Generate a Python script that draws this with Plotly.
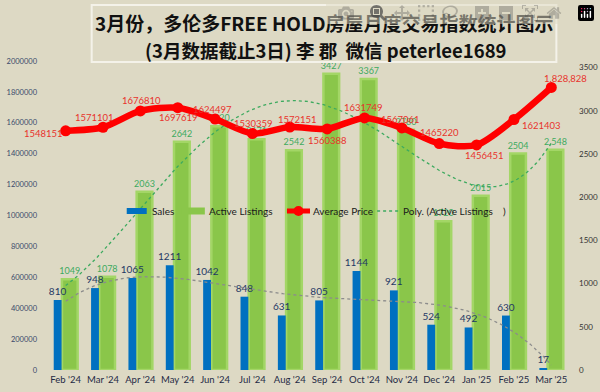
import numpy as np
import plotly.graph_objects as go

months = ["Feb '24", "Mar '24", "Apr '24", "May '24", "Jun '24", "Jul '24", "Aug '24",
          "Sep '24", "Oct '24", "Nov '24", "Dec '24", "Jan '25", "Feb '25", "Mar '25"]
sales = [810, 948, 1065, 1211, 1042, 848, 631, 805, 1144, 921, 524, 492, 630, 17]
active_listings = [1049, 1078, 2063, 2642, 2820, 2671, 2542, 3427, 3367, 2780, 1720, 2015, 2504, 2548]
average_price = [1548151, 1571101, 1676810, 1697619, 1624497, 1530359, 1572151,
                 1560388, 1631749, 1567061, 1465220, 1456451, 1621403, 1828828]
price_labels = ["1548151", "1571101", "1676810", "1697619", "1624497", "1530359", "1572151",
                "1560388", "1631749", "1567061", "1465220", "1456451", "1621403", "1,828,828"]
active_labels = [str(v) for v in active_listings[:-1]] + ["2,548"]
# label offsets (px) of the price labels relative to their points
price_dx = [-22, -9, 1, 1, -3, 1, 8, 0, -1, -1, 0, 8, 28, 14]
price_dy = [-3, 10, 10, -10, 10, 10, 8, -12, 10, 8, 11, -11, -6, 9]

x = np.arange(len(months))
BG = "#DDD9C4"
FONT = "Lato, 'Liberation Sans', sans-serif"
CJK = "'Noto Sans CJK SC', sans-serif"

# polynomial trendlines (as Excel's "Poly." trendline), computed from the series
xs = np.linspace(0, len(months) - 1, 200)
act_fit = np.polyval(np.polyfit(x + 1, active_listings, 4), xs + 1)
sal_fit = np.polyval(np.polyfit(x + 1, sales, 4), xs + 1)

fig = go.Figure()
fig.add_trace(go.Bar(
    x=x, y=active_listings, name="Active Listings", width=0.42, offset=-0.1,
    marker=dict(color="#8AC64A", line=dict(color="#A3D666", width=2.5)),
    text=active_labels, textposition="outside", constraintext="none",
    cliponaxis=False, textfont=dict(color="#3DAA5F", size=9, family=FONT),
    yaxis="y", showlegend=False))
fig.add_trace(go.Bar(
    x=x, y=sales, name="Sales", width=0.21, offset=-0.32,
    marker=dict(color="#0070C0", line=dict(width=0)),
    text=[str(v) for v in sales], textposition="outside", constraintext="none",
    cliponaxis=False, textfont=dict(color="#1F3864", size=10, family=FONT),
    yaxis="y", showlegend=False))
fig.add_trace(go.Scatter(
    x=xs, y=sal_fit, mode="lines", line=dict(color="#8C8C8C", width=1.3, dash="dot"),
    showlegend=False, hoverinfo="skip", yaxis="y"))
fig.add_trace(go.Scatter(
    x=xs, y=act_fit, name="Poly. (Active Listings)", mode="lines",
    line=dict(color="#3DAA5F", width=1.3, dash="dot"), hoverinfo="skip", yaxis="y",
    showlegend=False))
fig.add_trace(go.Scatter(
    x=x, y=average_price, name="Average Price", mode="lines+markers",
    line=dict(color="#FF0000", width=6.5, shape="spline", smoothing=0.8),
    marker=dict(color="#FF0000", size=11), yaxis="y2", showlegend=False))

annotations = []
for xi, p, t, dx, dy in zip(x, average_price, price_labels, price_dx, price_dy):
    annotations.append(dict(x=xi, y=p, xref="x", yref="y2", text=t, showarrow=False,
                            xshift=dx, yshift=dy, xanchor="center", yanchor="middle",
                            font=dict(color="#E8332C", size=9.5, family=FONT)))

# plot-area geometry in pixels, used to place title / legend decorations
PL, PW, PB, PH = 47.4, 522.2, 370, 309


def px(v):
    return (v - PL) / PW


def py(v):
    return (PB - v) / PH


# title (two lines)
annotations.append(dict(x=px(324), y=py(23), xref="paper", yref="paper", showarrow=False,
                        xanchor="center", yanchor="middle",
                        text="<b>3月份，多伦多FREE HOLD房屋月度交易指数统计图示</b>",
                        font=dict(family=CJK, size=19, color="#111111")))
annotations.append(dict(x=px(326), y=py(50), xref="paper", yref="paper", showarrow=False,
                        xanchor="center", yanchor="middle",
                        text="<b>(3月数据截止3日) 李 郡  微信 peterlee1689</b>",
                        font=dict(family=CJK, size=18.5, color="#111111")))

# legend (custom, positioned like the reference)
LY = 211
legend_items = [
    ("Sales", 150),
    ("Active Listings", 207),
    ("Average Price", 311),
    ("Poly. (Active Listings\u00a0\u00a0\u00a0\u00a0)", 401),
]
for name, tx in legend_items:
    annotations.append(dict(x=px(tx), y=py(LY), xref="paper", yref="paper", text=name,
                            showarrow=False, xanchor="left", yanchor="middle",
                            font=dict(size=10, color="#1a1a1a", family=FONT)))

shapes = [
    dict(type="rect", xref="paper", yref="paper", x0=px(127), x1=px(147), y0=py(LY + 3), y1=py(LY - 3),
         fillcolor="#0070C0", line=dict(width=0)),
    dict(type="rect", xref="paper", yref="paper", x0=px(182), x1=px(205), y0=py(LY + 3.5), y1=py(LY - 3.5),
         fillcolor="#8AC64A", line=dict(width=0)),
    dict(type="line", xref="paper", yref="paper", x0=px(287), x1=px(310), y0=py(LY), y1=py(LY),
         line=dict(color="#FF0000", width=5)),
    dict(type="circle", xref="paper", yref="paper", x0=px(293.5), x1=px(303.5), y0=py(LY + 5), y1=py(LY - 5),
         fillcolor="#FF0000", line=dict(width=0)),
    dict(type="line", xref="paper", yref="paper", x0=px(377), x1=px(398), y0=py(LY), y1=py(LY),
         line=dict(color="#3DAA5F", width=1.3, dash="dot")),
    # title frame
    dict(type="rect", xref="paper", yref="paper", x0=px(92), x1=px(556), y0=py(62), y1=py(5),
         line=dict(color="#F4F2E9", width=2), fillcolor="rgba(0,0,0,0)", layer="above"),
]

fig.update_layout(
    width=600, height=392,
    paper_bgcolor=BG, plot_bgcolor=BG,
    margin=dict(l=47, r=30, t=61, b=22, autoexpand=False),
    barmode="overlay",
    font=dict(family=FONT, color="#333333"),
    showlegend=False,
    xaxis=dict(range=[-0.5, 13.5], tickvals=list(x), ticktext=months, showgrid=False,
               zeroline=False, showline=False, ticks="", tickangle=0, ticklabelstandoff=2,
               automargin=False,
               tickfont=dict(size=9.5, color="#1F2A44", family=FONT)),
    yaxis=dict(range=[0, 3575], dtick=500, side="right", showgrid=False, zeroline=False,
               showline=False, ticks="", ticklabelstandoff=8, automargin=False,
               tickfont=dict(size=8, color="#333333", family=FONT)),
    yaxis2=dict(range=[0, 2000000], tickvals=list(range(0, 2000001, 200000)), tickformat="d",
                overlaying="y", side="left", showgrid=False, zeroline=False, showline=False,
                ticks="", ticklabelstandoff=9, automargin=False,
                tickfont=dict(size=7.5, color="#3B4A6B", family=FONT)),
    annotations=annotations,
    shapes=shapes,
)

fig.write_html("out.html", post_script="document.body.style.margin='0px';")
